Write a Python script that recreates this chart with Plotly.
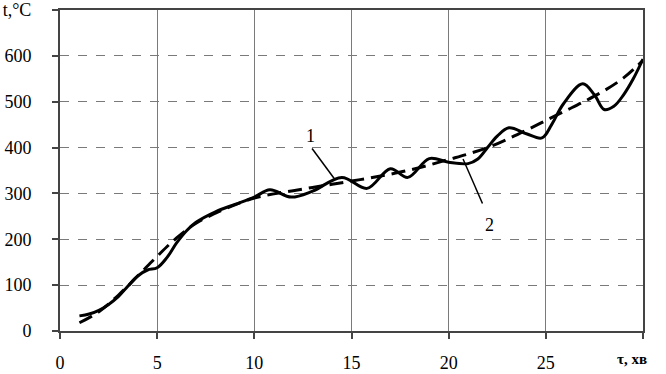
import plotly.graph_objects as go

# Curve 1: experimental (wavy, solid)
x1 = [1, 1.5, 2, 2.5, 3, 3.5, 4, 4.5, 5, 5.5, 6, 6.5, 7, 8, 9, 10, 10.8, 11.9, 13, 14.5,
      15.8, 17, 17.9, 19, 20, 21, 21.5, 22, 22.5, 23.1, 24, 24.8, 25.3, 25.9, 26.9, 27.5,
      28, 28.5, 29, 29.5, 30]
y1 = [33, 37, 45, 58, 75, 98, 120, 133, 138, 160, 192, 218, 237, 260, 276, 292, 308, 292, 305, 335,
      311, 354, 335, 376, 368, 365, 375, 400, 425, 443, 430, 421, 450, 495, 539, 515,
      483, 490, 515, 550, 593]

# Curve 2: approximation (smooth, dashed)
x2 = [1, 2, 3, 4, 5, 6, 7, 8, 9, 10, 11, 12, 13, 14, 15, 16, 17, 18, 19, 20,
      21, 22, 23, 24, 25, 26, 27, 28, 29, 30]
y2 = [18, 42, 78, 120, 163, 203, 235, 257, 275, 290, 299, 306, 313, 320, 327, 334, 342, 351, 362, 374,
      386, 400, 418, 438, 459, 480, 501, 524, 552, 590]

x_ticks = [0, 5, 10, 15, 20, 25, 30]
x_tick_text = ["0", "5", "10", "15", "20", "25", ""]
y_ticks = [0, 100, 200, 300, 400, 500, 600, 700]
y_tick_text = ["0", "100", "200", "300", "400", "500", "600", "t,°C"]

FONT = "Liberation Serif"
W, H = 666, 374
ML, MR, MT, MB = 60, 23, 10, 43

fig = go.Figure()
fig.add_trace(go.Scatter(x=x2, y=y2, mode="lines", line=dict(color="black", width=3, dash="14px,7px", shape="spline"),
                         showlegend=False))
fig.add_trace(go.Scatter(x=x1, y=y1, mode="lines", line=dict(color="black", width=3, shape="spline", smoothing=1.0),
                         showlegend=False))

# leader lines and labels
fig.add_shape(type="line", x0=12.97, y0=398, x1=14.1, y1=333, line=dict(color="black", width=1.5))
fig.add_annotation(x=12.87, y=426, text="1", showarrow=False, font=dict(family=FONT, size=18, color="black"))
fig.add_shape(type="line", x0=20.74, y0=375, x1=21.74, y1=278, line=dict(color="black", width=1.5))
fig.add_annotation(x=22.1, y=232, text="2", showarrow=False, font=dict(family=FONT, size=18, color="black"))

fig.add_annotation(x=(632 - ML) / (W - ML - MR), y=-(359 - (H - MB)) / (H - MT - MB),
                   xref="paper", yref="paper", text="<b>τ, хв</b>", showarrow=False,
                   xanchor="center", yanchor="middle",
                   font=dict(family=FONT, size=15, color="black"))

fig.update_layout(
    width=W, height=H,
    margin=dict(l=ML, r=MR, t=MT, b=MB, autoexpand=False),
    paper_bgcolor="white", plot_bgcolor="white",
    font=dict(family=FONT, size=18, color="black"),
)

fig.update_xaxes(range=[0, 30], tickvals=x_ticks, ticktext=x_tick_text, automargin=False,
                 showgrid=True, gridcolor="#7a7a7a", gridwidth=1.2,
                 showline=True, linecolor="#444", linewidth=2, mirror=True,
                 ticks="outside", ticklen=6, tickcolor="#444", tickwidth=1.5,
                 ticklabelstandoff=8, zeroline=False)
fig.update_yaxes(range=[0, 700], tickvals=y_ticks, ticktext=y_tick_text, automargin=False,
                 showgrid=True, gridcolor="#7a7a7a", gridwidth=1.2, griddash="dash",
                 showline=True, linecolor="#444", linewidth=2, mirror=True,
                 ticks="outside", ticklen=6, tickcolor="#444", tickwidth=1.5,
                 ticklabelstandoff=17, zeroline=False)

fig.write_html("out.html")
